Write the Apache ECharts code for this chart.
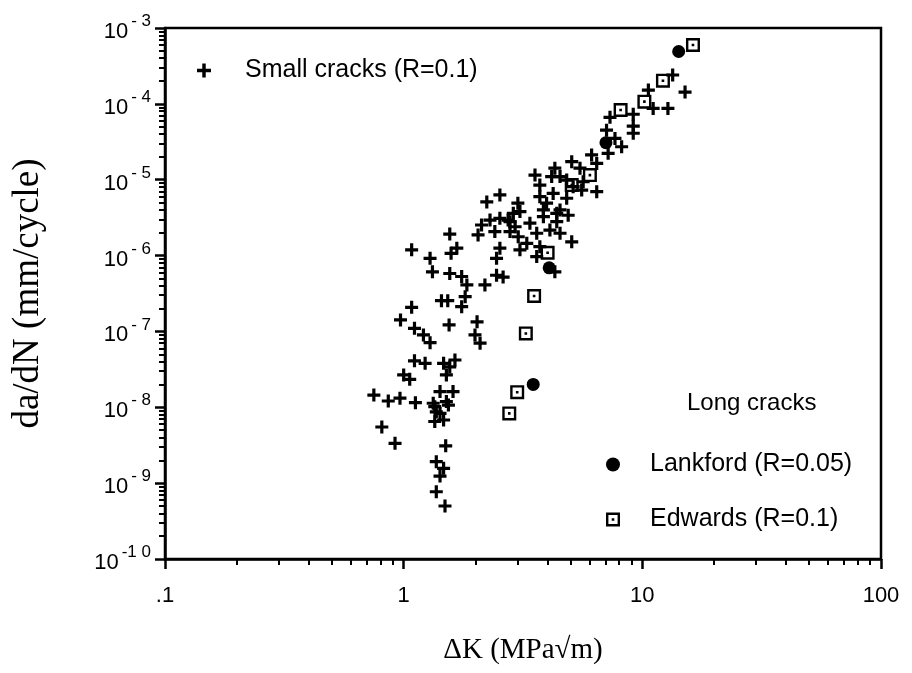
<!DOCTYPE html>
<html><head><meta charset="utf-8">
<script src="https://cdn.jsdelivr.net/npm/echarts@6/dist/echarts.min.js"></script>
<style>html,body{margin:0;padding:0;background:#fff}#c{width:912px;height:673px}</style>
</head><body><div id="c"></div>
<script>
// ---- tick labels ----
const xTickLabels = ['.1', '1', '10', '100'];            // 0.1, 1, 10, 100
const yTickExponents = ['-1 0', '- 9', '- 8', '- 7', '- 6', '- 5', '- 4', '- 3']; // 1e-10 .. 1e-3

// ---- Small cracks (R=0.1): ΔK and da/dN ----
const smallDK = [
  1.08, 1.29, 1.32, 1.56, 1.67, 1.56, 1.58, 1.75, 1.84, 2.19, 2.45, 2.61,
  1.44, 1.53, 1.08, 0.97, 1.11, 1.21, 1.29, 1.75, 1.81, 1.55, 2.03, 1.99, 2.09,
  1.11, 1.23, 1.47, 1.64, 1.56, 1.00, 1.06, 1.51, 0.75, 0.862, 0.965, 1.12,
  1.42, 1.61, 1.33, 1.51, 1.37, 1.54, 1.42, 1.47, 1.35, 0.81, 0.92, 1.50,
  1.37, 1.47, 1.42, 1.37, 1.49, 1.35,
  2.23, 2.53, 3.01, 2.12, 2.30, 2.05, 2.41, 2.74, 2.53, 2.45, 2.93, 3.02, 3.07,
  3.61, 4.52, 5.06, 4.30, 3.55, 3.72, 4.30, 4.52, 5.06, 5.48, 6.13, 6.44, 6.44,
  5.57, 7.19, 7.08, 7.68, 8.19, 9.16, 9.16, 7.32, 9.16, 10.6, 11.1, 12.8, 13.4, 15.1,
  3.72, 3.97, 4.23, 4.52, 4.82, 5.13, 3.85, 4.38, 3.07, 2.79, 5.65, 4.82, 4.17,
  3.85, 4.38, 4.89, 2.88, 3.38, 4.10, 3.72, 3.28, 2.79, 2.53, 3.61
];
const smallRate = [
  1.19e-6, 9.2e-7, 6.1e-7, 1.92e-6, 1.25e-6, 5.8e-7, 1.07e-6, 5.3e-7, 4.1e-7, 4.1e-7, 5.5e-7, 5.2e-7,
  2.54e-7, 2.54e-7, 2.08e-7, 1.42e-7, 1.10e-7, 9.0e-8, 7.1e-8, 2.12e-7, 2.87e-7, 1.22e-7, 1.34e-7, 9.0e-8, 7.0e-8,
  4.1e-8, 3.8e-8, 3.8e-8, 4.2e-8, 3.4e-8, 2.67e-8, 2.34e-8, 2.67e-8, 1.45e-8, 1.21e-8, 1.32e-8, 1.15e-8,
  1.61e-8, 1.61e-8, 1.13e-8, 1.19e-8, 8.7e-9, 1.07e-8, 8.3e-9, 6.8e-9, 6.5e-9, 5.5e-9, 3.35e-9, 3.1e-9,
  1.92e-9, 1.57e-9, 1.24e-9, 7.7e-10, 5.0e-10, 1.02e-8,
  5.1e-6, 6.3e-6, 4.9e-6, 2.53e-6, 2.94e-6, 1.87e-6, 2.07e-6, 2.94e-6, 1.25e-6, 9.2e-7, 2.4e-6, 1.77e-6, 1.19e-6,
  1.97e-6, 1.97e-6, 1.52e-6, 6.1e-7, 1.15e-5, 8.5e-6, 1.42e-5, 1.10e-5, 1.73e-5, 1.42e-5, 2.12e-5, 1.64e-5, 6.95e-6,
  7.3e-6, 2.23e-5, 4.5e-5, 3.5e-5, 2.72e-5, 4.1e-5, 5.1e-5, 6.65e-5, 7.3e-5, 1.52e-4, 8.7e-5, 8.7e-5, 2.4e-4, 1.43e-4,
  5.97e-6, 4.9e-6, 6.6e-6, 4.0e-6, 5.7e-6, 8.1e-6, 3.26e-6, 2.8e-6, 3.8e-6, 2.8e-6, 9.4e-6, 9.9e-6, 1.10e-5,
  4.0e-6, 3.6e-6, 3.4e-6, 3.6e-6, 2.67e-6, 2.17e-6, 1.31e-6, 1.45e-6, 2.07e-6, 3.1e-6, 9.7e-7
];

// ---- Long cracks: Lankford (R=0.05) ----
const lankfordDK = [14.2, 7.04, 4.07, 3.49];
const lankfordRate = [4.9e-4, 3.08e-5, 6.9e-7, 2.0e-8];

// ---- Long cracks: Edwards (R=0.1) ----
const edwardsDK = [16.3, 12.2, 10.2, 8.11, 6.03, 5.06, 4.01, 3.52, 3.25, 2.99, 2.77];
const edwardsRate = [5.97e-4, 2.02e-4, 1.07e-4, 8.3e-5, 1.15e-5, 8.5e-6, 1.09e-6, 2.93e-7, 9.4e-8, 1.58e-8, 8.3e-9];

const zip = (a, b) => a.map((v, i) => [v, b[i]]);

const plusPath = 'path://M-1.6,-6.5H1.6V-1.6H6.5V1.6H1.6V6.5H-1.6V1.6H-6.5V-1.6H-1.6Z';
const squarePath = 'path://M-7,-7H7V7H-7Z M-4.6,-4.6V4.6H4.6V-4.6Z M-1.3,-1.3H1.3V1.3H-1.3Z';

const SANS = '"Liberation Sans", Arial, Helvetica, sans-serif';
const SERIF = '"Liberation Serif", "Times New Roman", serif';

const chart = echarts.init(document.getElementById('c'), null, { renderer: 'canvas' });
chart.setOption({
  backgroundColor: '#fff',
  animation: false,
  textStyle: { fontFamily: SANS, color: '#000' },
  grid: {
    left: 165, right: 31, top: 28, bottom: 114,
    show: true, borderColor: '#000', borderWidth: 2.5,
    containLabel: false, outerBoundsMode: 'none'
  },
  xAxis: {
    type: 'log', logBase: 10, min: 0.1, max: 100,
    name: 'ΔK (MPa√m)', nameLocation: 'middle', nameGap: 77,
    nameTextStyle: { fontFamily: SERIF, fontSize: 29, color: '#000' },
    axisLine: { show: true, lineStyle: { color: '#000', width: 2.5 } },
    axisTick: { show: true, inside: false, length: 10, lineStyle: { color: '#000', width: 2.5 } },
    minorTick: { show: true, splitNumber: 9, length: 6, lineStyle: { color: '#000', width: 2 } },
    splitLine: { show: false },
    axisLabel: {
      margin: 26, fontSize: 22, fontFamily: SANS, color: '#000',
      formatter: v => xTickLabels[Math.round(Math.log10(v)) + 1]
    }
  },
  yAxis: {
    type: 'log', logBase: 10, min: 1e-10, max: 1e-3,
    name: 'da/dN (mm/cycle)', nameLocation: 'middle', nameGap: 118, nameRotate: 90,
    nameTextStyle: { fontFamily: SERIF, fontSize: 37, color: '#000' },
    axisLine: { show: true, lineStyle: { color: '#000', width: 2.5 } },
    axisTick: { show: true, inside: false, length: 10, lineStyle: { color: '#000', width: 2.5 } },
    minorTick: { show: true, splitNumber: 9, length: 6, lineStyle: { color: '#000', width: 2 } },
    splitLine: { show: false },
    axisLabel: {
      margin: 14, color: '#000',
      formatter: v => '{b|10}{s|' + yTickExponents[Math.round(Math.log10(v)) + 10] + '}',
      rich: {
        b: { fontSize: 22, fontFamily: SANS, color: '#000', lineHeight: 30, verticalAlign: 'bottom' },
        s: { fontSize: 17, fontFamily: SANS, color: '#000', lineHeight: 17, verticalAlign: 'top', padding: [0, 0, 0, 3] }
      }
    }
  },
  legend: [
    {
      data: ['Small cracks (R=0.1)'], left: 192, top: 53,
      itemWidth: 72, itemHeight: 14, selectedMode: false,
      textStyle: { fontSize: 25, fontFamily: SANS, color: '#000' }
    },
    {
      data: ['Lankford (R=0.05)'], left: 601, top: 447,
      itemWidth: 64, itemHeight: 14, selectedMode: false,
      textStyle: { fontSize: 25, fontFamily: SANS, color: '#000' }
    },
    {
      data: ['Edwards (R=0.1)'], left: 601, top: 502,
      itemWidth: 64, itemHeight: 14, selectedMode: false,
      textStyle: { fontSize: 25, fontFamily: SANS, color: '#000' }
    }
  ],
  graphic: [
    { type: 'text', left: 687, top: 391, style: { text: 'Long cracks', font: '24px ' + SANS, fill: '#000' } }
  ],
  series: [
    {
      name: 'Small cracks (R=0.1)', type: 'scatter', symbol: plusPath, symbolSize: 13,
      itemStyle: { color: '#000', opacity: 1 }, data: zip(smallDK, smallRate)
    },
    {
      name: 'Edwards (R=0.1)', type: 'scatter', symbol: squarePath, symbolSize: 14,
      itemStyle: { color: '#000', opacity: 1 }, data: zip(edwardsDK, edwardsRate)
    },
    {
      name: 'Lankford (R=0.05)', type: 'scatter', symbol: 'circle', symbolSize: 13,
      itemStyle: { color: '#000', opacity: 1 }, data: zip(lankfordDK, lankfordRate)
    }
  ]
});
</script>
</body></html>
